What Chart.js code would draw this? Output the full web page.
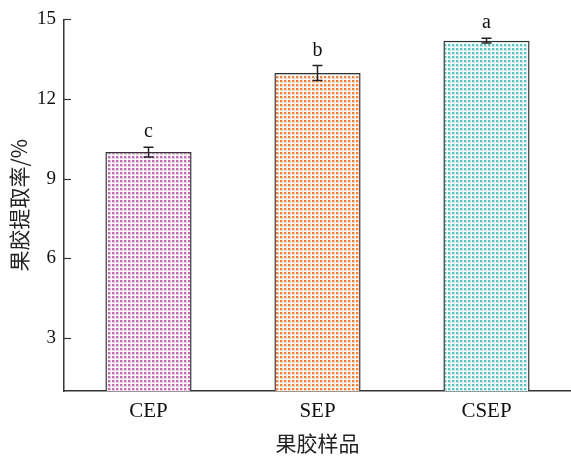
<!DOCTYPE html>
<html>
<head>
<meta charset="utf-8">
<script src="https://cdn.jsdelivr.net/npm/chart.js@4/dist/chart.umd.min.js"></script>
<style>
  html, body { margin: 0; padding: 0; background: #fff; }
  #wrap { width: 571px; height: 460px; }
</style>
</head>
<body>
<div id="wrap"><canvas id="c" width="571" height="460"></canvas></div>
<script>
// data
const samples = ['CEP', 'SEP', 'CSEP'];
const yieldMean = [10.0, 12.98, 14.2];
const yieldErr = [0.18, 0.28, 0.09];
const sigLetters = ['c', 'b', 'a'];
const yTicks = [3, 6, 9, 12, 15];
const barColors = ['#c45fb0', '#f07a33', '#4fc0bf'];

// small grid pattern like the printed hatch
function makePattern(color) {
  const t = document.createElement('canvas');
  t.width = 4; t.height = 4;
  const g = t.getContext('2d');
  g.fillStyle = '#fff';
  g.fillRect(0, 0, 4, 4);
  g.fillStyle = color;
  g.globalAlpha = 0.35;
  g.fillRect(0, 0, 4, 4);
  g.globalAlpha = 0.9;
  g.fillRect(0, 0, 2, 2);
  g.globalAlpha = 1;
  g.fillStyle = '#fff';
  g.fillRect(3, 0, 1, 4);
  g.fillRect(0, 3, 4, 1);
  return g.createPattern(t, 'repeat');
}

const serif = "'Liberation Serif', 'Times New Roman', serif";
const cjk = "'Noto Sans CJK SC', sans-serif";

// error bars, letters and inward tick marks
const extras = {
  id: 'extras',
  afterDatasetsDraw(chart) {
    const ctx = chart.ctx;
    const y = chart.scales.y;
    const meta = chart.getDatasetMeta(0);
    ctx.save();
    ctx.strokeStyle = '#222';
    ctx.lineWidth = 1.5;
    meta.data.forEach((bar, i) => {
      const x = bar.x;
      const top = y.getPixelForValue(yieldMean[i] + yieldErr[i]);
      const bot = y.getPixelForValue(yieldMean[i] - yieldErr[i]);
      ctx.beginPath();
      ctx.moveTo(x, top); ctx.lineTo(x, bot);
      ctx.moveTo(x - 5, top); ctx.lineTo(x + 5, top);
      ctx.moveTo(x - 5, bot); ctx.lineTo(x + 5, bot);
      ctx.stroke();
      ctx.fillStyle = '#111';
      ctx.font = '20px ' + serif;
      ctx.textAlign = 'center';
      ctx.textBaseline = 'alphabetic';
      ctx.fillText(sigLetters[i], x, top - 10);
    });
    // y ticks pointing into the plot
    ctx.strokeStyle = '#333';
    ctx.lineWidth = 1.2;
    const left = chart.chartArea.left;
    yTicks.forEach(v => {
      const py = Math.round(y.getPixelForValue(v)) + 0.5;
      ctx.beginPath();
      ctx.moveTo(left, py); ctx.lineTo(left + 7, py);
      ctx.stroke();
    });
    ctx.restore();
  }
};

new Chart(document.getElementById('c'), {
  type: 'bar',
  data: {
    labels: samples,
    datasets: [{
      data: yieldMean,
      backgroundColor: barColors.map(makePattern),
      borderColor: '#333',
      borderWidth: 1.5,
      borderSkipped: false,
      barPercentage: 0.51,
      categoryPercentage: 1.0
    }]
  },
  options: {
    responsive: false,
    animation: false,
    layout: { padding: { top: 17, right: 0, left: 0, bottom: 0 } },
    plugins: { legend: { display: false }, tooltip: { enabled: false } },
    scales: {
      x: {
        grid: { display: false, drawTicks: false },
        border: { display: true, color: '#333', width: 1.5 },
        ticks: { color: '#111', font: { family: serif, size: 21 }, padding: 8 },
        title: { display: true, text: '果胶样品', color: '#222', font: { family: cjk, size: 21 }, padding: { top: 4 } },
        afterFit(s) { s.height = 69; }
      },
      y: {
        min: 1,
        max: 15,
        afterBuildTicks(s) { s.ticks = yTicks.map(v => ({ value: v })); },
        grid: { display: false, drawTicks: false },
        border: { display: true, color: '#333', width: 1.5 },
        ticks: { color: '#111', font: { family: serif, size: 19 }, padding: 8 },
        title: { display: true, text: '果胶提取率/%', color: '#222', font: { family: cjk, size: 21 }, padding: { top: 6, bottom: 0 } },
        afterFit(s) { s.width = 64; }
      }
    }
  },
  plugins: [extras]
});
</script>
</body>
</html>
